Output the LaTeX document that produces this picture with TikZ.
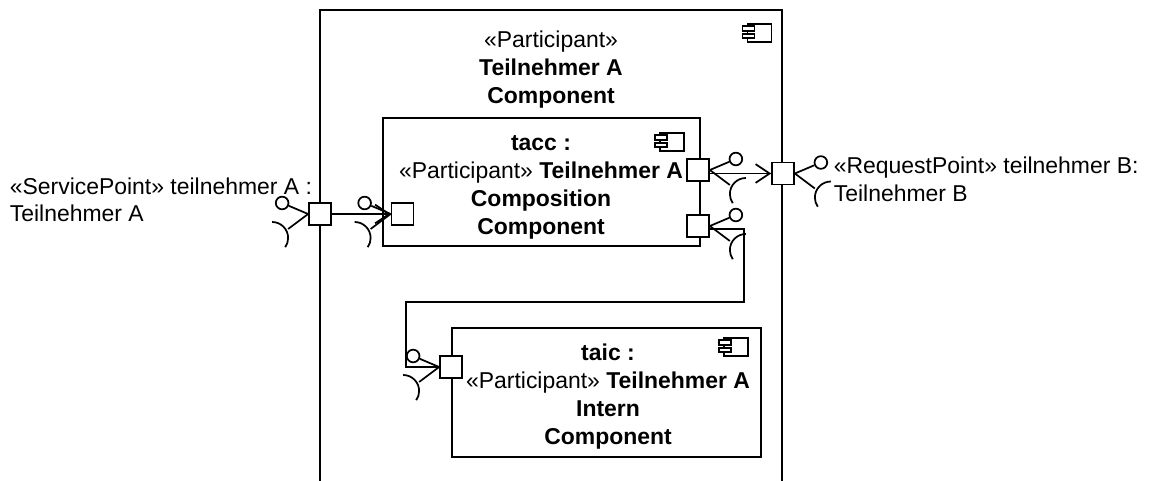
\documentclass[tikz,border=0pt]{standalone}
\usepackage{fontspec}
\setmainfont{Liberation Sans}
\usetikzlibrary{arrows.meta}
\newcommand{\sockarc}{12pt}
% provided and required interface on the left of a port
\newcommand{\ifaceleft}[2]{
	\node[lolli] (#2o) at ([shift={(-26,11)}]#1.west) {};
	\coordinate (#2j) at ([shift={(-20,-15)}]#1.west);
	\draw (#1.west) -- (#2o);
	\draw (#1.west) -- (#2j);
	\draw ([shift={(-16,7)}]#2j) arc[start angle=90, end angle=-35, radius=\sockarc];
}
% the same on the right of a port
\newcommand{\ifaceright}[2]{
	\node[lolli] (#2o) at ([shift={(26,11)}]#1.east) {};
	\coordinate (#2j) at ([shift={(20,-15)}]#1.east);
	\draw (#1.east) -- (#2o);
	\draw (#1.east) -- (#2j);
	\draw ([shift={(16,7)}]#2j) arc[start angle=90, end angle=215, radius=\sockarc];
}
% component icon, #1 = lower left corner of the body
\newcommand{\compicon}[1]{
	\begin{scope}[shift={(#1)}]
		\draw (0,0) rectangle (24,18);
		\draw[fill=white] (-5,11) rectangle (7,16);
		\draw[fill=white] (-5,4) rectangle (7,8);
	\end{scope}
}
\tikzstyle{box} = [draw]
\tikzstyle{port} = [draw, fill=white, minimum size=16.5pt, inner sep=0pt]
\tikzstyle{lolli} = [draw, fill=white, circle, minimum size=9.5pt, inner sep=0pt]
\tikzstyle{title} = [align=center, inner sep=0pt]
\tikzstyle{txt} = [align=left, inner sep=0pt]

\begin{document}
\begin{tikzpicture}[x=0.75pt, y=0.75pt, line width=1.3pt,
		font=\fontsize{17.2}{21}\selectfont]
	\useasboundingbox (0,0) rectangle (1149,481);
	\coordinate (ol) at (320,0);
	\coordinate (ot) at (551,471);
	\coordinate (or) at (782,0);
	\draw (ol) |- (ot) -| (or);
	\node[title] (ptitle) at (551,411) {«Participant»\\\textbf{Teilnehmer A}\\\textbf{Component}};
	\compicon{747.5,439}
	\node[box, minimum width=237.75pt, minimum height=96pt] (tacc) at (541.5,299) {};
	\node[title] (tacct) at (541,293.5) {\textbf{tacc :}\\«Participant» \textbf{Teilnehmer A}\\\textbf{Composition}\\\textbf{Component}};
	\compicon{660,330}
	\node[box, minimum width=231.75pt, minimum height=96.75pt] (taic) at (606.5,88.5) {};
	\node[title] (taict) at (608,84) {\textbf{taic :}\\«Participant» \textbf{Teilnehmer A}\\\textbf{Intern}\\\textbf{Component}};
	\compicon{724,125}
	\node[port] (pa) at (320,267) {};
	\node[port] (pb) at (402.5,267) {};
	\node[port] (pc) at (698,311) {};
	\node[port] (pd) at (698,255) {};
	\node[port] (pe) at (783,307.5) {};
	\node[port] (pf) at (451,114) {};
	\coordinate (cr) at (744,179);
	\coordinate (cl) at (406,179);
	\draw[-{Straight Barb[length=10.5pt, width=14pt]}] (pa) -- (pb);
	\draw[-{Straight Barb[length=10.5pt, width=14pt]}] (pc.east |- pe.west) -- (pe.west);
	\draw ([yshift=-2.25pt]pd.east) -| (cr) -- (cl) |- (pf.west);
	\ifaceleft{pa}{ia}
	\ifaceleft{pb}{ib}
	\ifaceright{pc}{ic}
	\ifaceright{pd}{id}
	\ifaceright{pe}{ie}
	\ifaceleft{pf}{if}
	\node[txt, anchor=west] (lservice) at (9,281.5) {«ServicePoint» teilnehmer A :\\[-1pt]Teilnehmer A};
	\node[txt, anchor=west] (lrequest) at (833,302) {«RequestPoint» teilnehmer B:\\Teilnehmer B};
\end{tikzpicture}
\end{document}
